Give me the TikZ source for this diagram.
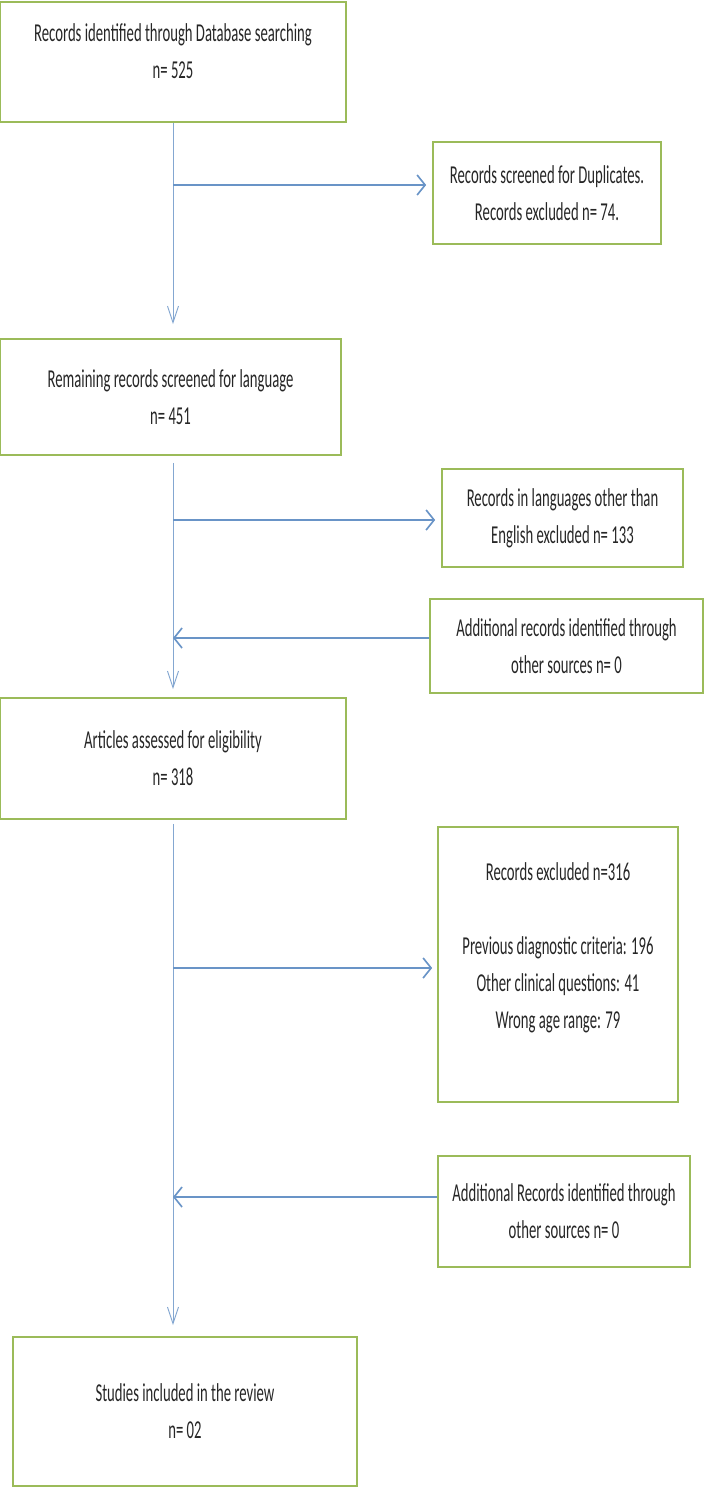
\documentclass[tikz,border=0pt]{standalone}
\usepackage{fontspec}
\setmainfont{Carlito}[FakeStretch=0.57]
\usetikzlibrary{arrows.meta, positioning}
\definecolor{boxgreen}{RGB}{155, 187, 89}
\definecolor{linkblue}{RGB}{79, 129, 189}

\begin{document}
\begin{tikzpicture}[x=0.03cm, y=-0.03cm,
        base/.style={draw=boxgreen, line width=1.4pt, align=center, inner sep=0pt, text=black!85, font=\fontsize{22}{31.6}\selectfont},
        mainbox/.style={base, minimum width=10.38cm},
        sidebox/.style={base},
        spine/.style={-{Straight Barb[length=0.5cm, width=0.33cm]}, line width=0.8pt, draw=linkblue!70},
        branch/.style={-{Straight Barb[length=0.24cm, width=0.6cm]}, line width=1.4pt, draw=linkblue!85}
    ]
        \useasboundingbox (0,0) rectangle (704,1487);

        % Main column
        \node (ident) [mainbox, minimum height=3.6cm] at (173, 62) {Records identified through Database searching\\n= 525\\[-0.45cm]\mbox{}};
        \node (lang) [mainbox, minimum width=10.23cm, minimum height=3.48cm] at (170.5, 397) {Remaining records screened for language\\n= 451};
        \node (elig) [mainbox, minimum height=3.63cm] at (173, 758.5) {Articles assessed for eligibility\\n= 318};
        \node (incl) [mainbox, minimum width=10.32cm, minimum height=4.47cm] at (185, 1411.5) {Studies included in the review\\n= 02};

        % Side column
        \node (dup) [sidebox, minimum width=6.84cm, minimum height=3.06cm] at (547, 193) {Records screened for Duplicates.\\Records excluded n= 74.};
        \node (nonen) [sidebox, minimum width=7.23cm, minimum height=2.94cm] at (562.5, 518) {Records in languages other than\\English excluded n= 133};
        \node (addone) [sidebox, minimum width=8.19cm, minimum height=2.82cm] at (566.5, 646) {Additional records identified through\\other sources n= 0};
        \node (excl) [sidebox, minimum width=7.2cm, minimum height=8.25cm] at (558, 964.5) {Records excluded n=316\\[1.11cm]Previous diagnostic criteria: 196\\Other clinical questions: 41\\Wrong age range: 79\\ \mbox{}};
        \node (addtwo) [sidebox, minimum width=7.56cm, minimum height=3.33cm] at (564, 1211.5) {Additional Records identified through\\other sources n= 0};

        % Junctions on the spine
        \coordinate (j1) at (173, 185);
        \coordinate (j2) at (173, 520);
        \coordinate (j3) at (173, 638);
        \coordinate (j4) at (173, 968);
        \coordinate (j5) at (173, 1197);

        % Arrows
        \draw [spine, shorten >=0.42cm] (ident.south) -- (ident.south |- lang.north);
        \draw [spine, shorten <=0.21cm, shorten >=0.24cm] (ident.south |- lang.south) -- (ident.south |- elig.north);
        \draw [spine, shorten <=0.12cm, shorten >=0.33cm] (elig.south) -- (elig.south |- incl.north);
        \draw [branch, shorten >=0.18cm] (j1) -- (j1 -| dup.west);
        \draw [branch, shorten >=0.18cm] (j2) -- (j2 -| nonen.west);
        \draw [branch] (j3 -| addone.west) -- (j3);
        \draw [branch, shorten >=0.15cm] (j4) -- (j4 -| excl.west);
        \draw [branch] (j5 -| addtwo.west) -- (j5);
    \end{tikzpicture}
\end{document}
